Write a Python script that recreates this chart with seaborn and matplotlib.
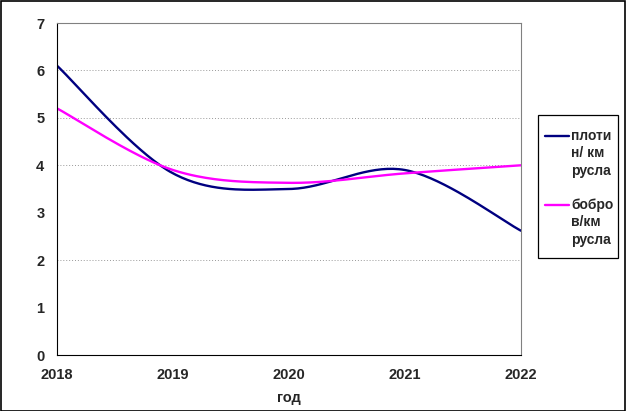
import numpy as np
import pandas as pd
import matplotlib
matplotlib.use("Agg")
import matplotlib.pyplot as plt
import seaborn as sns

years = [2018, 2019, 2020, 2021, 2022]
dams = [6.1, 3.83, 3.5, 3.9, 2.62]      # плотин / км русла
beavers = [5.2, 3.9, 3.63, 3.83, 4.0]   # бобров / км русла
labels = ["плоти\nн/ км\nрусла", "бобро\nв/км\nрусла"]
colors = ["#000080", "#FF00FF"]
grid_levels = [2, 4, 5, 6]


def smooth(x, y, n=40):
    # excel-like smoothed line (bezier through points)
    x = np.asarray(x, float)
    y = np.asarray(y, float)
    px = np.concatenate([[x[0]], x, [x[-1]]])
    py = np.concatenate([[y[0]], y, [y[-1]]])
    xs, ys = [], []
    t = np.linspace(0, 1, n)
    for i in range(1, len(px) - 2):
        p0 = np.array([px[i], py[i]])
        p3 = np.array([px[i + 1], py[i + 1]])
        p1 = p0 + (np.array([px[i + 1], py[i + 1]]) - np.array([px[i - 1], py[i - 1]])) / 6
        p2 = p3 - (np.array([px[i + 2], py[i + 2]]) - np.array([px[i], py[i]])) / 6
        b = ((1 - t) ** 3)[:, None] * p0 + (3 * (1 - t) ** 2 * t)[:, None] * p1 \
            + (3 * (1 - t) * t ** 2)[:, None] * p2 + (t ** 3)[:, None] * p3
        xs.extend(b[:, 0])
        ys.extend(b[:, 1])
    return xs, ys


rows = []
for lab, vals in zip(labels, [dams, beavers]):
    sx, sy = smooth(years, vals)
    for a, b in zip(sx, sy):
        rows.append({"год": a, "v": b, "s": lab})
df = pd.DataFrame(rows)

sns.set_style("white")
plt.rcParams["font.family"] = ["Liberation Sans", "DejaVu Sans"]
plt.rcParams["font.weight"] = "bold"

fig = plt.figure(figsize=(6.26, 4.11), dpi=100)
ax = fig.add_axes([57 / 626, 1 - 355 / 411, 464 / 626, 332 / 411])

for y in grid_levels:
    ax.axhline(y, linestyle=(0, (1, 2)), color="#999999", linewidth=0.7, zorder=0)

sns.lineplot(data=df, x="год", y="v", hue="s", palette=colors, sort=False,
             estimator=None, linewidth=1.7, ax=ax, legend=False)

ax.set_xlim(2018, 2022)
ax.set_ylim(0, 7)
ax.set_xticks(years)
ax.set_yticks(range(0, 8))
ax.tick_params(axis="both", direction="out", length=4, width=0.8, color="black",
               labelsize=10.5, pad=5)
for lbl in ax.get_xticklabels() + ax.get_yticklabels():
    lbl.set_fontweight("bold")
ax.set_xlabel("год", fontsize=10.5, fontweight="bold", labelpad=7)
ax.set_ylabel("")
for side in ["top", "right"]:
    ax.spines[side].set_color("#808080")
    ax.spines[side].set_linewidth(0.8)
for side in ["left", "bottom"]:
    ax.spines[side].set_color("black")
    ax.spines[side].set_linewidth(0.8)

# legend drawn by hand so the handle sits on the first text line
W, H = 626, 411
fig.patches.append(plt.Rectangle((538 / W, 1 - 258 / H), 80 / W, 143 / H,
                                 transform=fig.transFigure, fill=False,
                                 edgecolor="black", linewidth=0.9))
for lab, c, ytop in zip(labels, colors, [136, 205]):
    fig.lines.append(plt.Line2D([545 / W, 569 / W], [1 - ytop / H, 1 - ytop / H],
                                transform=fig.transFigure, color=c, linewidth=1.7))
    fig.text(571 / W, 1 - (ytop - 7) / H, lab, ha="left", va="top",
             fontsize=10, fontweight="bold", linespacing=1.3)

fig.patches.append(plt.Rectangle((0.001, 0.001), 0.997, 0.997, transform=fig.transFigure,
                                 fill=False, edgecolor="black", linewidth=1.2))

fig.savefig("out.png", dpi=100)
